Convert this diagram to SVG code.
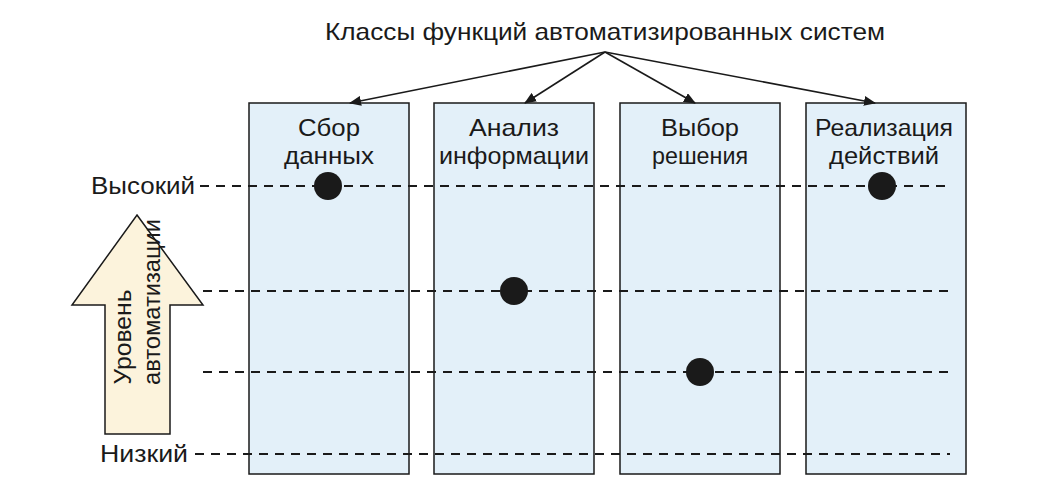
<svg xmlns="http://www.w3.org/2000/svg" width="1051" height="495" viewBox="0 0 1051 495">
<defs>
<style>
text{font-family:"Liberation Sans","DejaVu Sans",sans-serif;font-size:24px;fill:#1a1a1a}
.col{fill:#e3f0f9;stroke:#1a1a1a;stroke-width:1.5}
.dash{stroke:#1a1a1a;stroke-width:2.2;stroke-dasharray:9,7;fill:none}
.arr{stroke:#1a1a1a;stroke-width:1.6;fill:none;marker-end:url(#ah)}
.dot{fill:#1a1a1a}
</style>
<marker id="ah" markerWidth="12" markerHeight="10" refX="11" refY="5" orient="auto" markerUnits="userSpaceOnUse"><path d="M0,0 L12,5 L0,10 Z" fill="#1a1a1a"/></marker>
</defs>
<rect width="1051" height="495" fill="#fff"/>
<text x="605" y="40" text-anchor="middle" textLength="560" lengthAdjust="spacingAndGlyphs">Классы функций автоматизированных систем</text>
<g id="col1"><rect class="col" x="249" y="103" width="160" height="371"/><text x="329" y="136" text-anchor="middle" textLength="62" lengthAdjust="spacingAndGlyphs">Сбор</text><text x="329" y="164" text-anchor="middle" textLength="90" lengthAdjust="spacingAndGlyphs">данных</text></g>
<g id="col2"><rect class="col" x="434" y="103" width="160" height="371"/><text x="514" y="136" text-anchor="middle" textLength="90" lengthAdjust="spacingAndGlyphs">Анализ</text><text x="514" y="164" text-anchor="middle" textLength="150" lengthAdjust="spacingAndGlyphs">информации</text></g>
<g id="col3"><rect class="col" x="620" y="103" width="160" height="371"/><text x="700" y="136" text-anchor="middle" textLength="78" lengthAdjust="spacingAndGlyphs">Выбор</text><text x="700" y="164" text-anchor="middle" textLength="96" lengthAdjust="spacingAndGlyphs">решения</text></g>
<g id="col4"><rect class="col" x="806" y="103" width="160" height="371"/><text x="884" y="136" text-anchor="middle" textLength="138" lengthAdjust="spacingAndGlyphs">Реализация</text><text x="884" y="164" text-anchor="middle" textLength="110" lengthAdjust="spacingAndGlyphs">действий</text></g>
<g id="levels">
<path class="dash" d="M200,186H950M203,291H950M203,372H950M195,454H950"/>
<text x="195" y="194" text-anchor="end" textLength="104" lengthAdjust="spacingAndGlyphs">Высокий</text>
<text x="188" y="462" text-anchor="end" textLength="88" lengthAdjust="spacingAndGlyphs">Низкий</text>
</g>
<g id="arrow-level">
<path d="M137,215 L203,305 L170,305 L170,434 L105,434 L105,305 L72,305 Z" fill="#fcf3dc" stroke="#1a1a1a" stroke-width="1.5"/>
<text transform="translate(131,337) rotate(-90)" text-anchor="middle" textLength="95" lengthAdjust="spacingAndGlyphs">Уровень</text>
<text transform="translate(160,302) rotate(-90)" text-anchor="middle" textLength="166" lengthAdjust="spacingAndGlyphs">автоматизации</text>
</g>
<g id="dots">
<circle class="dot" cx="328" cy="186" r="14"/>
<circle class="dot" cx="514" cy="291" r="14"/>
<circle class="dot" cx="700" cy="372" r="14"/>
<circle class="dot" cx="882" cy="186" r="14"/>
</g>
<g id="connectors">
<path class="arr" d="M605,52L350,103"/>
<path class="arr" d="M605,52L525,103"/>
<path class="arr" d="M605,52L695,103"/>
<path class="arr" d="M605,52L875,103"/>
</g>
</svg>
